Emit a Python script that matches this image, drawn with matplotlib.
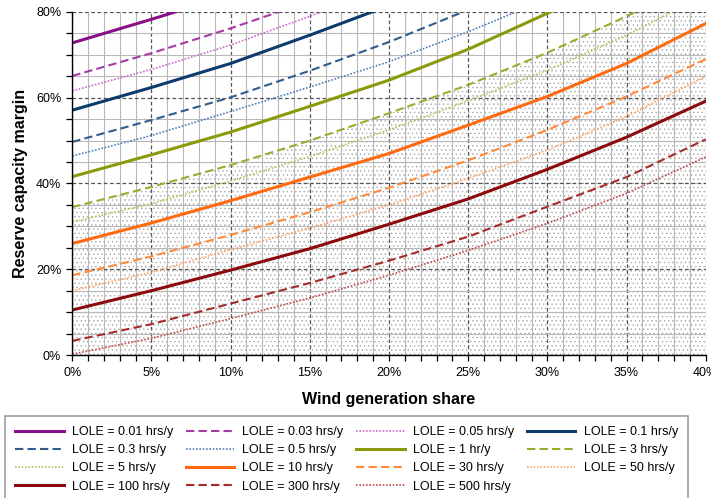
import numpy as np
import matplotlib
matplotlib.use("Agg")
import matplotlib.pyplot as plt
from matplotlib.ticker import MultipleLocator, PercentFormatter

plt.rcParams["font.family"] = ["Liberation Sans", "DejaVu Sans"]
plt.rcParams["hatch.linewidth"] = 0.5
plt.rcParams["hatch.color"] = "#a8a8a8"

# ---------- data ------------------------------------------------------------
WIND_SHARE = [0, 5, 10, 15, 20, 25, 30, 35, 40]   # % wind generation

LOLE_001 = [72.8, 78.3, 84.0, 90.0, 96.0, 102.0, 108.0, 114.0, 120.0]
LOLE_003 = [65.1, 70.4, 76.2, 82.5, 89.0, 95.5, 102.0, 108.0, 114.0]
LOLE_005 = [61.6, 66.6, 72.3, 79.0, 86.0, 93.0, 100.0, 107.0, 114.0]
LOLE_01 = [57.1, 62.4, 68.0, 74.6, 81.5, 89.0, 96.0, 103.0, 110.0]
LOLE_03 = [49.7, 54.8, 60.1, 66.3, 73.0, 80.5, 88.0, 96.0, 104.0]
LOLE_05 = [46.4, 51.2, 56.8, 62.5, 68.4, 75.4, 83.0, 91.0, 99.0]
LOLE_1 = [41.6, 46.7, 52.0, 58.0, 64.1, 71.3, 79.7, 88.0, 97.0]
LOLE_3 = [34.5, 39.2, 44.3, 50.0, 56.4, 63.0, 70.5, 79.0, 88.0]
LOLE_5 = [31.0, 35.3, 40.6, 46.3, 52.5, 59.3, 66.4, 74.6, 84.0]
LOLE_10 = [26.0, 30.8, 36.0, 41.5, 47.0, 53.6, 60.3, 68.0, 77.3]
LOLE_30 = [18.6, 23.0, 28.0, 33.3, 39.0, 45.4, 52.5, 60.3, 69.0]
LOLE_50 = [15.0, 19.3, 24.6, 29.6, 35.0, 41.2, 47.8, 55.6, 65.0]
LOLE_100 = [10.5, 15.0, 19.8, 24.8, 30.5, 36.4, 43.3, 50.8, 59.2]
LOLE_300 = [3.3, 7.2, 12.0, 16.8, 22.0, 27.6, 34.6, 41.5, 50.3]
LOLE_500 = [0.2, 3.9, 8.5, 13.3, 18.6, 24.4, 30.7, 37.7, 46.2]

LABELS = ["LOLE = 0.01 hrs/y", "LOLE = 0.03 hrs/y", "LOLE = 0.05 hrs/y",
          "LOLE = 0.1 hrs/y", "LOLE = 0.3 hrs/y", "LOLE = 0.5 hrs/y",
          "LOLE = 1 hr/y", "LOLE = 3 hrs/y", "LOLE = 5 hrs/y",
          "LOLE = 10 hrs/y", "LOLE = 30 hrs/y", "LOLE = 50 hrs/y",
          "LOLE = 100 hrs/y", "LOLE = 300 hrs/y", "LOLE = 500 hrs/y"]
SERIES = [LOLE_001, LOLE_003, LOLE_005, LOLE_01, LOLE_03, LOLE_05, LOLE_1,
          LOLE_3, LOLE_5, LOLE_10, LOLE_30, LOLE_50, LOLE_100, LOLE_300,
          LOLE_500]

# ---------- styles ----------------------------------------------------------
COLORS = ["#8a0f8a", "#a63aa6", "#c86ac8",
          "#0d3b6b", "#2e5d8e", "#4f7fb3",
          "#8b9a0b", "#9caa2e", "#b7c055",
          "#ff6a10", "#ff8a3a", "#ffa466",
          "#8c0a0a", "#a52a2a", "#c24a4a"]
SOLID = dict(ls="-", lw=2.2)
DASH = dict(ls=(0, (4, 2)), lw=1.5)
DOT = dict(ls=(0, (1, 1)), lw=1.2)
STYLES = [SOLID, DASH, DOT, SOLID, DASH, DOT, SOLID, DASH, DOT,
          SOLID, DASH, DOT, SOLID, DASH, DOT]

fig = plt.figure(figsize=(7.11, 4.98), dpi=100)
ax = fig.add_axes([72.3 / 711, 1 - 355 / 498, (705.7 - 72.3) / 711, (355 - 12) / 498])

x = np.array(WIND_SHARE, dtype=float)

# shaded region below the 3 hrs/y standard
ax.fill_between(x, 0, LOLE_3, facecolor="none", edgecolor="#a8a8a8",
                hatch="....", lw=0, zorder=1)

lines = []
for vals, lab, col, st in zip(SERIES, LABELS, COLORS, STYLES):
    ln, = ax.plot(x, vals, color=col, label=lab, zorder=4, **st)
    lines.append(ln)

ax.set_xlim(0, 40)
ax.set_ylim(0, 80)
ax.xaxis.set_major_locator(MultipleLocator(5))
ax.xaxis.set_minor_locator(MultipleLocator(1))
ax.yaxis.set_major_locator(MultipleLocator(20))
ax.yaxis.set_minor_locator(MultipleLocator(5))
ax.xaxis.set_major_formatter(PercentFormatter(decimals=0))
ax.yaxis.set_major_formatter(PercentFormatter(decimals=0))

ax.grid(which="minor", color="#b8b8b8", lw=0.8, ls="-", zorder=2)
ax.grid(which="major", color="#555555", lw=0.9, ls=(0, (3, 2)), zorder=3)
ax.set_axisbelow(False)
for s in ("top", "right"):
    ax.spines[s].set_visible(False)
for s in ("left", "bottom"):
    ax.spines[s].set_linewidth(1.0)
    ax.spines[s].set_zorder(5)

ax.tick_params(which="both", direction="out", length=4, width=0.9,
               labelsize=9, color="black")
ax.tick_params(axis="x", pad=5)
ax.tick_params(axis="y", pad=4)

ax.set_xlabel("Wind generation share", fontsize=11.5, fontweight="bold",
              labelpad=9)
ax.set_ylabel("Reserve capacity margin", fontsize=11.5, fontweight="bold",
              labelpad=6)

# legend in row-major order (matplotlib fills columns first)
order = [0, 4, 8, 12, 1, 5, 9, 13, 2, 6, 10, 14, 3, 7, 11]
leg = fig.legend([lines[i] for i in order], [LABELS[i] for i in order],
                 loc="upper left", bbox_to_anchor=(5 / 711, 1 - 416 / 498),
                 ncol=4, fontsize=9, frameon=True, fancybox=False,
                 edgecolor="#888888", handlelength=3.9, handletextpad=0.65,
                 columnspacing=1.0, labelspacing=0.5, borderpad=0.8,
                 borderaxespad=0)
leg.get_frame().set_linewidth(1.2)

fig.savefig("out.png", dpi=100)
